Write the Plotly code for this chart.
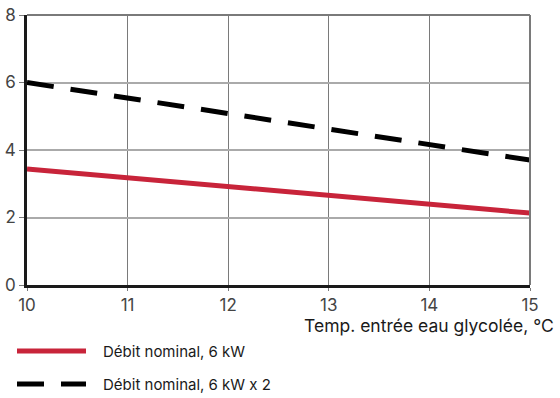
import plotly.graph_objects as go

temps = [10, 15]
debit_6kw = [3.44, 2.13]
debit_6kw_x2 = [6.0, 3.70]
series_names = ["Débit nominal, 6 kW", "Débit nominal, 6 kW x 2"]
x_ticks = [10, 11, 12, 13, 14, 15]
y_ticks = [0, 2, 4, 6, 8]
x_title = "Temp. entrée eau glycolée, °C"

RED = "#c8243a"
FONT = "Inter"

L, R, T, B = 27, 30, 15, 113
W, H = 560, 398
pw, ph = W - L - R, H - T - B

def px(x):
    return (x - L) / pw

def py(y):
    return (H - B - y) / ph

fig = go.Figure()
fig.add_trace(go.Scatter(x=temps, y=debit_6kw, mode="lines", name=series_names[0],
                         line=dict(color=RED, width=5), showlegend=False))
fig.add_trace(go.Scatter(x=temps, y=debit_6kw_x2, mode="lines", name=series_names[1],
                         line=dict(color="#000000", width=5, dash="27px,17px"), showlegend=False))

shapes = [
    dict(type="line", xref="paper", yref="paper", x0=0, x1=1, y0=1, y1=1,
         line=dict(color="#7a7a7a", width=2)),
    dict(type="line", xref="paper", yref="paper", x0=1, x1=1, y0=0, y1=1,
         line=dict(color="#7a7a7a", width=2)),
    dict(type="line", xref="paper", yref="paper", x0=px(17), x1=px(86), y0=py(351), y1=py(351),
         line=dict(color=RED, width=5)),
    dict(type="line", xref="paper", yref="paper", x0=px(17), x1=px(86), y0=py(384), y1=py(384),
         line=dict(color="#000000", width=5, dash="27px,17px")),
]

annotations = [
    dict(text=x_title, xref="paper", yref="paper", x=px(556), y=py(325), xanchor="right",
         yanchor="middle", showarrow=False, font=dict(family=FONT, size=17.5, color="#1a1a1a")),
    dict(text=series_names[0], xref="paper", yref="paper", x=px(101), y=py(351), xanchor="left",
         yanchor="middle", showarrow=False, font=dict(family=FONT, size=15, color="#1a1a1a")),
    dict(text=series_names[1], xref="paper", yref="paper", x=px(101), y=py(384), xanchor="left",
         yanchor="middle", showarrow=False, font=dict(family=FONT, size=15, color="#1a1a1a")),
]

fig.update_layout(
    width=W, height=H,
    margin=dict(l=L, r=R, t=T, b=B, pad=0, autoexpand=False),
    paper_bgcolor="white", plot_bgcolor="white",
    font=dict(family=FONT, size=16, color="#333"),
    shapes=shapes, annotations=annotations,
    showlegend=False,
)
fig.update_xaxes(range=[10, 15], tickvals=x_ticks, showgrid=True, gridcolor="#7a7a7a", gridwidth=1,
                 showline=True, linecolor="#1a1a1a", linewidth=2.5, ticks="outside", ticklen=3,
                 tickcolor="#7a7a7a", zeroline=False, automargin=False,
                 tickfont=dict(size=17, color="#444"))
fig.update_yaxes(range=[0, 8], tickvals=y_ticks, showgrid=True, gridcolor="#aaaaaa", gridwidth=1.5,
                 showline=True, linecolor="#1a1a1a", linewidth=2.5, ticks="outside", ticklen=5,
                 tickcolor="#7a7a7a", zeroline=False, automargin=False,
                 tickfont=dict(size=17, color="#444"))

fig.write_html("out.html", config={"displayModeBar": False},
               post_script="document.body.style.margin='0';document.body.style.overflow='hidden';")
